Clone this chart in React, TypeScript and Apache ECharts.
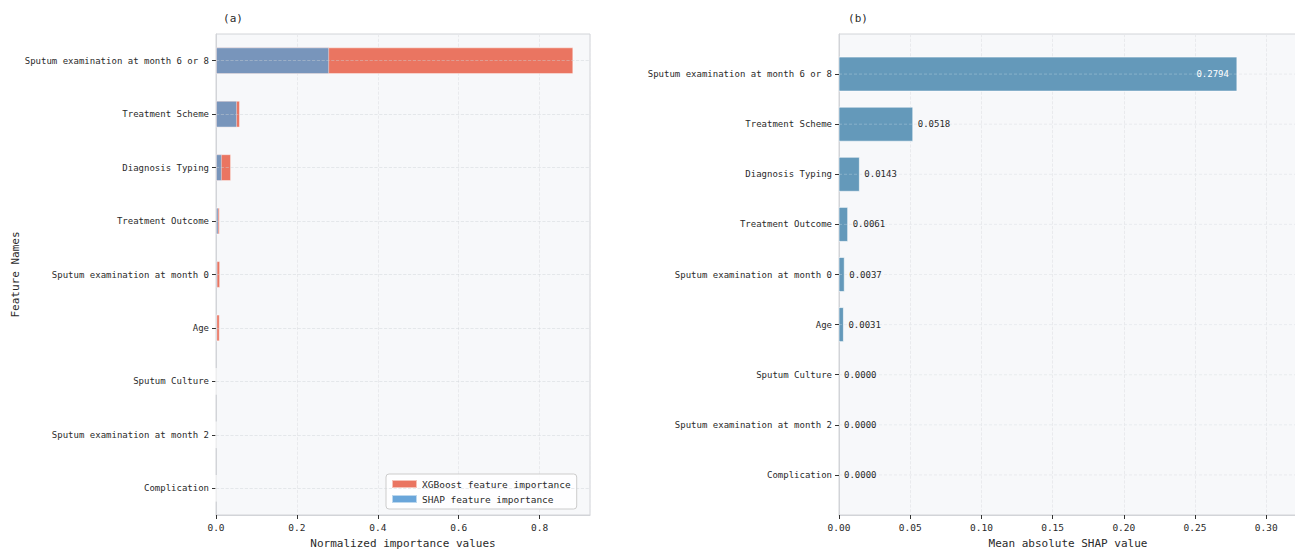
import React, { useEffect, useRef } from "react";
import * as echarts from "echarts";

const features = [
  "Sputum examination at month 6 or 8",
  "Treatment Scheme",
  "Diagnosis Typing",
  "Treatment Outcome",
  "Sputum examination at month 0",
  "Age",
  "Sputum Culture",
  "Sputum examination at month 2",
  "Complication",
];
const xgboostImportance = [0.883, 0.059, 0.037, 0.009, 0.01, 0.009, 0, 0, 0];
const shapImportance = [0.2794, 0.0518, 0.0143, 0.0061, 0.0037, 0.0031, 0, 0, 0];
const meanAbsShap = [0.2794, 0.0518, 0.0143, 0.0061, 0.0037, 0.0031, 0.0, 0.0, 0.0];
const featureIndex = [0, 1, 2, 3, 4, 5, 6, 7, 8];

const FONT = '"DejaVu Sans Mono", "Liberation Mono", monospace';
const TXT = "#2a2a2a";
const BG = "#F7F8FA";
const BORDER = "#D2D4D8";
const GRIDC = "#E4E6EA";
const RED = "#EA7561";
const BLUE_BAR = "#7895BB";
const BLUE_LEG = "#6AA6DA";
const SHAP_BAR = "#6499BA";

export default function App() {
  const ref = useRef<HTMLDivElement>(null);
  useEffect(() => {
    if (!ref.current) return;
    const chart = echarts.init(ref.current, undefined, { renderer: "svg" });
    const option: any = {
      animation: false,
      backgroundColor: "#ffffff",
      textStyle: { fontFamily: FONT },
      graphic: [
        { type: "text", x: 233, y: 18, style: { text: "(a)", font: `11px ${FONT}`, fill: TXT, align: "center", verticalAlign: "middle" } },
        { type: "text", x: 858, y: 18, style: { text: "(b)", font: `11px ${FONT}`, fill: TXT, align: "center", verticalAlign: "middle" } },
      ],
      grid: [
        { left: 216, top: 34, width: 374, height: 481, show: true, backgroundColor: BG, borderColor: BORDER, borderWidth: 1, containLabel: false, outerBoundsMode: "none" },
        { left: 839, top: 34, width: 458, height: 481, show: true, backgroundColor: BG, borderColor: BORDER, borderWidth: 1, containLabel: false, outerBoundsMode: "none" },
      ],
      legend: {
        orient: "vertical",
        left: 386,
        top: 474,
        itemWidth: 25,
        itemHeight: 8,
        itemGap: 5,
        padding: [5, 6, 5, 5],
        icon: "rect",
        borderColor: "#CCCCCC",
        borderWidth: 1,
        borderRadius: 3,
        backgroundColor: "rgba(255,255,255,0.85)",
        textStyle: { fontFamily: FONT, fontSize: 9.5, color: TXT },
        data: [
          { name: "XGBoost feature importance", itemStyle: { color: RED } },
          { name: "SHAP feature importance", itemStyle: { color: BLUE_LEG } },
        ],
      },
      xAxis: [
        {
          gridIndex: 0,
          type: "value",
          min: 0,
          max: 0.9245,
          interval: 0.2,
          name: "Normalized importance values",
          nameLocation: "middle",
          nameGap: 23,
          nameTextStyle: { fontFamily: FONT, fontSize: 11, color: TXT },
          axisLine: { show: true, onZero: false, lineStyle: { color: BORDER } },
          axisTick: { show: true, length: 4, lineStyle: { color: "#333" } },
          axisLabel: { fontFamily: FONT, fontSize: 9.5, color: TXT, margin: 7, showMaxLabel: false, formatter: (v: number) => v.toFixed(1) },
          splitLine: { show: true, lineStyle: { type: "dashed", color: GRIDC, width: 0.8 } },
        },
        {
          gridIndex: 1,
          type: "value",
          min: 0,
          max: 0.3216,
          interval: 0.05,
          name: "Mean absolute SHAP value",
          nameLocation: "middle",
          nameGap: 23,
          nameTextStyle: { fontFamily: FONT, fontSize: 11, color: TXT },
          axisLine: { show: true, onZero: false, lineStyle: { color: BORDER } },
          axisTick: { show: true, length: 4, lineStyle: { color: "#333" } },
          axisLabel: { fontFamily: FONT, fontSize: 9.5, color: TXT, margin: 7, showMaxLabel: false, formatter: (v: number) => v.toFixed(2) },
          splitLine: { show: true, lineStyle: { type: "dashed", color: GRIDC, width: 0.8 } },
        },
      ],
      yAxis: [
        {
          gridIndex: 0,
          type: "category",
          inverse: true,
          data: features,
          name: "Feature Names",
          nameLocation: "middle",
          nameGap: 193,
          nameRotate: 90,
          nameTextStyle: { fontFamily: FONT, fontSize: 11, color: TXT },
          axisLine: { show: true, onZero: false, lineStyle: { color: BORDER } },
          axisTick: { show: true, length: 4, alignWithLabel: true, lineStyle: { color: "#333" } },
          axisLabel: { fontFamily: FONT, fontSize: 9, color: TXT, margin: 7 },
          splitLine: { show: false },
        },
        {
          gridIndex: 1,
          type: "value",
          inverse: true,
          min: -0.8,
          max: 8.8,
          axisLine: { show: true, onZero: false, lineStyle: { color: BORDER } },
          axisTick: { show: true, length: 4, customValues: featureIndex, lineStyle: { color: "#333" } },
          axisLabel: {
            fontFamily: FONT,
            fontSize: 9,
            color: TXT,
            margin: 7,
            customValues: featureIndex,
            formatter: (v: number) => features[Math.round(v)] ?? "",
          },
          splitLine: { show: false },
        },
      ],
      series: [
        {
          name: "XGBoost feature importance",
          type: "bar",
          xAxisIndex: 0,
          yAxisIndex: 0,
          barWidth: 26.6,
          barGap: "-100%",
          itemStyle: { color: RED, borderColor: "rgba(255,255,255,0.55)", borderWidth: 0.8 },
          data: xgboostImportance,
          markLine: {
            silent: true,
            symbol: "none",
            label: { show: false },
            lineStyle: { type: "dashed", color: "rgba(205,208,214,0.55)", width: 0.8 },
            data: features.map((f) => ({ yAxis: f })),
          },
        },
        {
          name: "SHAP feature importance",
          type: "bar",
          xAxisIndex: 0,
          yAxisIndex: 0,
          barWidth: 26.6,
          barGap: "-100%",
          itemStyle: { color: BLUE_BAR, borderColor: "rgba(255,255,255,0.55)", borderWidth: 0.8 },
          data: shapImportance,
          z: 3,
        },
        {
          name: "Mean absolute SHAP",
          type: "custom",
          xAxisIndex: 1,
          yAxisIndex: 1,
          encode: { x: 0, y: 1 },
          clip: true,
          data: meanAbsShap.map((v, i) => [v, featureIndex[i]]),
          renderItem: (params: any, api: any) => {
            const v = api.value(0) as number;
            const i = api.value(1) as number;
            const p0 = api.coord([0, i]);
            const p1 = api.coord([v, i]);
            const band = Math.abs(api.size([0, 1])[1]);
            const h = band * 0.68;
            const w = p1[0] - p0[0];
            const inside = i === 0;
            const cs = params.coordSys;
            const children: any[] = [];
            children.push({
              type: "line",
              shape: { x1: cs.x, y1: p0[1], x2: cs.x + cs.width, y2: p0[1] },
              style: { stroke: "#E6E8EC", lineWidth: 0.8, lineDash: [3, 2] },
              silent: true,
              z2: 0,
            });
            if (w > 0.01) {
              children.push({
                type: "rect",
                shape: { x: p0[0], y: p0[1] - h / 2, width: w, height: h },
                style: { fill: SHAP_BAR, stroke: "rgba(255,255,255,0.6)", lineWidth: 1 },
                z2: 1,
              });
              children.push({
                type: "line",
                shape: { x1: p0[0], y1: p0[1], x2: p1[0], y2: p0[1] },
                style: { stroke: "rgba(255,255,255,0.3)", lineWidth: 0.8, lineDash: [3, 2] },
                silent: true,
                z2: 2,
              });
            }
            children.push({
              type: "text",
              x: inside ? p1[0] - 8 : p1[0] + 5,
              y: p0[1],
              z2: 3,
              style: {
                text: v.toFixed(4),
                fill: inside ? "#ffffff" : TXT,
                font: `9px ${FONT}`,
                align: inside ? "right" : "left",
                verticalAlign: "middle",
              },
            });
            return { type: "group", children };
          },
        },
      ],
    };
    chart.setOption(option);
    return () => chart.dispose();
  }, []);
  return <div ref={ref} style={{ position: "absolute", left: 0, top: 0, width: 1295, height: 550 }} />;
}
